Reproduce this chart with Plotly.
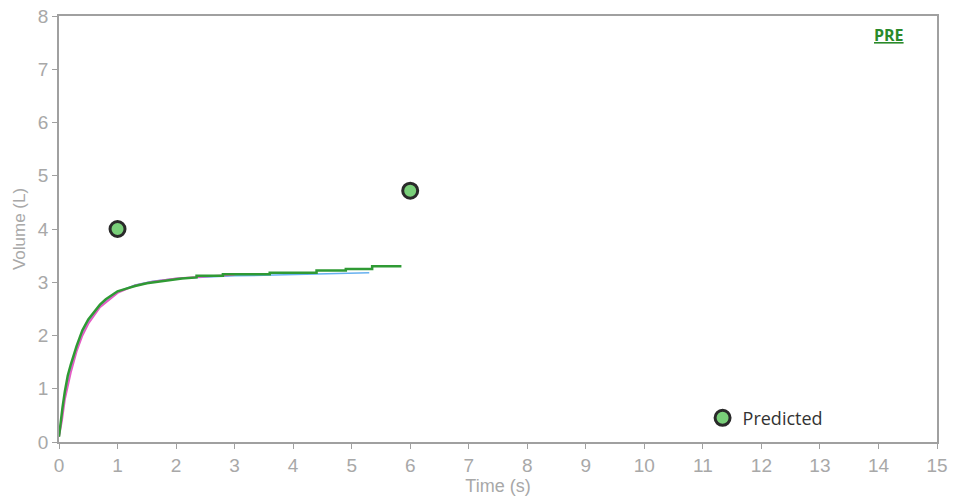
import plotly.graph_objects as go

# Green measured trial (rises smoothly, then small steps on the plateau)
green_t = [0.0, 0.03, 0.06, 0.1, 0.15, 0.2, 0.25, 0.3, 0.35, 0.4, 0.5, 0.6, 0.7, 0.8, 0.9, 1.0, 1.15, 1.3,
           1.5, 1.7, 1.9, 2.1, 2.35, 2.35, 2.8, 2.8, 3.6, 3.6, 4.4, 4.4, 4.9, 4.9, 5.35, 5.35, 5.85]
green_v = [0.1, 0.45, 0.65, 0.95, 1.25, 1.45, 1.65, 1.8, 1.95, 2.1, 2.3, 2.45, 2.58, 2.68, 2.76, 2.83, 2.88, 2.93,
           2.98, 3.01, 3.04, 3.07, 3.09, 3.12, 3.12, 3.15, 3.15, 3.18, 3.18, 3.22, 3.22, 3.25, 3.25, 3.3, 3.3]

# Blue trial
blue_t = [0.0, 0.05, 0.1, 0.2, 0.3, 0.4, 0.5, 0.7, 1.0, 1.3, 1.6, 2.0, 2.5, 3.0, 3.5, 4.0, 4.5, 5.0, 5.3]
blue_v = [0.1, 0.45, 0.85, 1.35, 1.75, 2.05, 2.25, 2.55, 2.82, 2.95, 3.02, 3.07, 3.1, 3.12, 3.13, 3.14, 3.15, 3.17, 3.18]

# Pink trial
pink_t = [0.0, 0.05, 0.1, 0.2, 0.3, 0.4, 0.5, 0.7, 1.0, 1.3, 1.6, 2.0, 2.5, 3.0]
pink_v = [0.1, 0.4, 0.8, 1.3, 1.7, 2.0, 2.22, 2.53, 2.8, 2.94, 3.01, 3.07, 3.11, 3.14]

# Predicted points
pred_t = [1.0, 6.0]
pred_v = [4.0, 4.72]

x_ticks = list(range(0, 16))
y_ticks = list(range(0, 9))

fig = go.Figure()
fig.add_trace(go.Scatter(x=blue_t, y=blue_v, mode="lines", line=dict(color="#66b0f0", width=1.5),
                         showlegend=False, hoverinfo="skip"))
fig.add_trace(go.Scatter(x=pink_t, y=pink_v, mode="lines", line=dict(color="#e45cc4", width=2),
                         showlegend=False, hoverinfo="skip"))
fig.add_trace(go.Scatter(x=green_t, y=green_v, mode="lines", line=dict(color="#2f9a34", width=2.5),
                         showlegend=False))
fig.add_trace(go.Scatter(x=pred_t, y=pred_v, mode="markers", name="Predicted",
                         marker=dict(size=15, color="#79cf79", line=dict(color="#2a2a2a", width=3))))

axis_common = dict(showgrid=False, zeroline=False, showline=True, linecolor="#a0a0a0", linewidth=1.5,
                   mirror=True, ticks="outside", ticklen=5, tickcolor="#a0a0a0", automargin=False,
                   tickfont=dict(family="Liberation Sans, Arial", size=19, color="#a8a8a8"))

fig.update_layout(
    width=966, height=503,
    margin=dict(l=59, r=29, t=16, b=61),
    paper_bgcolor="white", plot_bgcolor="white",
    xaxis=dict(range=[0, 15], tickvals=x_ticks, ticktext=[str(v) for v in x_ticks],
               title=dict(text="Time (s)", font=dict(family="Liberation Sans, Arial", size=18, color="#a8a8a8"),
                          standoff=2), **axis_common),
    yaxis=dict(range=[0, 8], tickvals=y_ticks, ticktext=[str(v) for v in y_ticks],
               title=dict(text="Volume (L)", font=dict(family="Liberation Sans, Arial", size=17, color="#a8a8a8"),
                          standoff=8), **axis_common),
    legend=dict(x=0.733, y=0.056, xanchor="left", yanchor="middle", bgcolor="rgba(0,0,0,0)",
                font=dict(family="Open Sans, Arial", size=18, color="#333333")),
    annotations=[dict(text="<b><u>PRE</u></b>", x=0.945, y=0.955, xref="paper", yref="paper",
                      xanchor="center", yanchor="middle",
                      showarrow=False, font=dict(family="Open Sans, Arial", size=16, color="#2a8a2a"))],
)

fig.write_html("out.html", config={"displayModeBar": False},
               post_script="document.body.style.margin='0px';")
